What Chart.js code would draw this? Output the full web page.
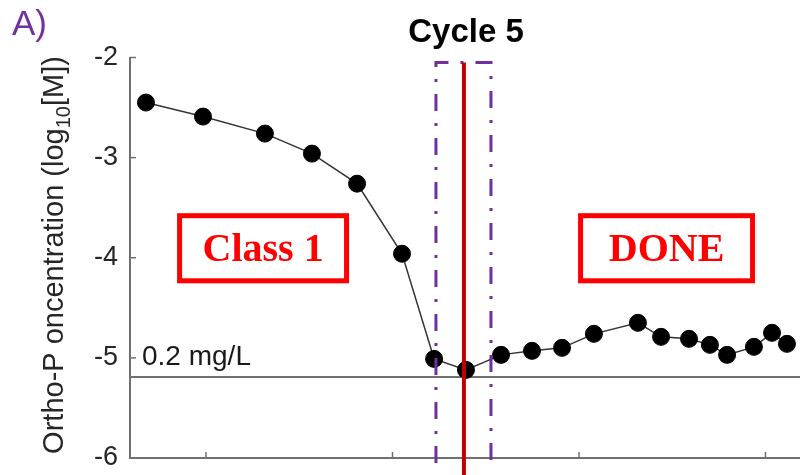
<!DOCTYPE html>
<html lang="en">
<head>
    <meta charset="UTF-8">
    <title>Cycle 5</title>
    <script src="https://cdn.jsdelivr.net/npm/chart.js"></script>
    <style>
        body { margin: 0; background: #ffffff; }
        #wrap { position: relative; width: 800px; height: 475px; }
    </style>
</head>
<body>
    <div id="wrap"><canvas id="cycleChart" width="800" height="475"></canvas></div>

    <script>
        // Values (x in arbitrary time units, y = log10[M])
        const sampleTimes = [6.78, 9.84, 13.16, 15.68, 18.10, 20.51, 22.23, 23.94, 25.82, 27.48,
                             29.09, 30.80, 33.16, 34.40, 35.90, 37.02, 37.94, 39.38, 40.35, 41.15];
        const orthoP = [-2.45, -2.59, -2.76, -2.96, -3.26, -3.96, -5.01, -5.12, -4.97, -4.93,
                        -4.90, -4.76, -4.65, -4.79, -4.81, -4.87, -4.97, -4.89, -4.75, -4.86];
        const yTicks = [-6, -5, -4, -3, -2];
        const xTicks = [10, 20, 30, 40];
        const limitValue = -5.19;          // 0.2 mg/L
        const xMin = 5.925, xMax = 41.85;

        // window markers (x) and label boxes
        const windowStart = 22.33, windowEnd = 25.28, doneAt = 23.83;
        const boxes = [
            { text: 'Class 1', x0: 8.45, x1: 17.67, y0: -3.555, y1: -4.255 },
            { text: 'DONE', x0: 29.95, x1: 39.44, y0: -3.555, y1: -4.255 }
        ];

        const SANS = '"Liberation Sans", Arial, sans-serif';
        const AXIS_COLOR = '#707070';

        const overlayPlugin = {
            id: 'overlay',
            afterDatasetsDraw(chart) {
                const { ctx, chartArea: area, scales: { x, y } } = chart;
                ctx.save();

                // inward tick marks
                ctx.strokeStyle = AXIS_COLOR;
                ctx.lineWidth = 1.5;
                yTicks.forEach(v => {
                    const py = y.getPixelForValue(v);
                    ctx.beginPath();
                    ctx.moveTo(area.left, py);
                    ctx.lineTo(area.left + 6, py);
                    ctx.stroke();
                });
                xTicks.forEach(v => {
                    const px = x.getPixelForValue(v);
                    ctx.beginPath();
                    ctx.moveTo(px, area.bottom);
                    ctx.lineTo(px, area.bottom - 6);
                    ctx.stroke();
                });

                // 0.2 mg/L label
                ctx.fillStyle = '#1a1a1a';
                ctx.font = '28px ' + SANS;
                ctx.textAlign = 'left';
                ctx.textBaseline = 'alphabetic';
                ctx.fillText('0.2 mg/L', area.left + 12, y.getPixelForValue(limitValue) - 12);

                // label boxes
                boxes.forEach(b => {
                    const l = x.getPixelForValue(b.x0), r = x.getPixelForValue(b.x1);
                    const t = y.getPixelForValue(b.y0), btm = y.getPixelForValue(b.y1);
                    ctx.fillStyle = '#ffffff';
                    ctx.fillRect(l, t, r - l, btm - t);
                    ctx.strokeStyle = '#ff0000';
                    ctx.lineWidth = 5;
                    ctx.strokeRect(l + 2.5, t + 2.5, r - l - 5, btm - t - 5);
                    ctx.fillStyle = '#ff0000';
                    ctx.font = 'bold 40px "Liberation Serif", "Times New Roman", serif';
                    ctx.textAlign = 'center';
                    ctx.textBaseline = 'middle';
                    ctx.fillText(b.text, (l + r) / 2, (t + btm) / 2 + 2);
                });

                // dash-dot window
                const top = y.getPixelForValue(-2.05);
                const wl = x.getPixelForValue(windowStart), wr = x.getPixelForValue(windowEnd);
                ctx.strokeStyle = '#7030a0';
                ctx.lineWidth = 3;
                ctx.setLineDash([17, 12, 3, 12]);
                ctx.beginPath();
                ctx.moveTo(wl, area.bottom + 5);
                ctx.lineTo(wl, top);
                ctx.lineTo(wr, top);
                ctx.lineTo(wr, area.bottom + 5);
                ctx.stroke();
                ctx.setLineDash([]);

                // red marker
                const rx = x.getPixelForValue(doneAt);
                ctx.strokeStyle = '#c00000';
                ctx.lineWidth = 4;
                ctx.beginPath();
                ctx.moveTo(rx, top);
                ctx.lineTo(rx, chart.height);
                ctx.stroke();

                ctx.restore();
            },
            afterDraw(chart) {
                const { ctx } = chart;
                ctx.save();

                // panel letter
                ctx.fillStyle = '#7030a0';
                ctx.font = '35px ' + SANS;
                ctx.textAlign = 'left';
                ctx.textBaseline = 'alphabetic';
                ctx.fillText('A)', 12, 35);

                // title
                ctx.fillStyle = '#000000';
                ctx.font = 'bold 33px ' + SANS;
                ctx.textAlign = 'center';
                ctx.fillText('Cycle 5', 466, 42);

                // y-axis title with subscript
                const main = '29px ' + SANS, sub = '20px ' + SANS;
                const p1 = 'Ortho-P oncentration (log', p2 = '10', p3 = '[M])';
                ctx.font = main;
                const w1 = ctx.measureText(p1).width, w3 = ctx.measureText(p3).width;
                ctx.font = sub;
                const w2 = ctx.measureText(p2).width;
                const total = w1 + w2 + w3;
                ctx.translate(63, 255);
                ctx.rotate(-Math.PI / 2);
                ctx.fillStyle = '#262626';
                ctx.textAlign = 'left';
                let cx = -total / 2;
                ctx.font = main;
                ctx.fillText(p1, cx, 0);
                cx += w1;
                ctx.font = sub;
                ctx.fillText(p2, cx, 7);
                cx += w2;
                ctx.font = main;
                ctx.fillText(p3, cx, 0);

                ctx.restore();
            }
        };

        const cycleData = {
            datasets: [
                {
                    label: 'Ortho-P',
                    data: sampleTimes.map((t, i) => ({ x: t, y: orthoP[i] })),
                    borderColor: '#333333',
                    borderWidth: 1.5,
                    pointRadius: 8.5,
                    pointBackgroundColor: '#000000',
                    pointBorderColor: '#000000',
                    pointBorderWidth: 1,
                    tension: 0,
                    clip: false
                },
                {
                    label: '0.2 mg/L',
                    data: [{ x: xMin, y: limitValue }, { x: xMax, y: limitValue }],
                    borderColor: AXIS_COLOR,
                    borderWidth: 2,
                    pointRadius: 0
                }
            ]
        };

        const cycleConfig = {
            type: 'line',
            data: cycleData,
            options: {
                responsive: false,
                animation: false,
                layout: {
                    autoPadding: false,
                    padding: { top: 57.5, right: 0, bottom: 0, left: 0 }
                },
                plugins: {
                    legend: { display: false },
                    tooltip: { enabled: false }
                },
                scales: {
                    x: {
                        type: 'linear',
                        min: xMin,
                        max: xMax,
                        grid: { display: false },
                        border: { display: true, color: AXIS_COLOR, width: 2 },
                        ticks: { display: false },
                        afterFit: s => { s.height = 17; s.paddingLeft = 0; s.paddingRight = 0; }
                    },
                    y: {
                        min: -6,
                        max: -2,
                        grid: { display: false, drawTicks: false },
                        border: { display: true, color: AXIS_COLOR, width: 2 },
                        ticks: {
                            stepSize: 1,
                            padding: 12,
                            color: '#262626',
                            font: { family: SANS, size: 27 }
                        },
                        afterFit: s => { s.width = 130; s.paddingTop = 0; s.paddingBottom = 0; }
                    }
                }
            },
            plugins: [overlayPlugin]
        };

        new Chart(document.getElementById('cycleChart').getContext('2d'), cycleConfig);
    </script>
</body>
</html>
